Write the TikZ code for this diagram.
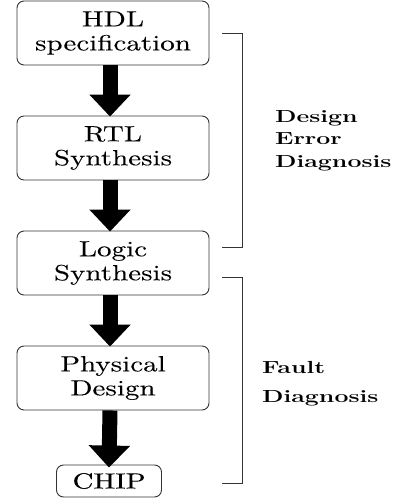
\documentclass[tikz,border=0pt]{standalone}
\usepackage{fontspec}
\usepackage{graphicx}
\usetikzlibrary{arrows.meta}
\newfontfamily\boxfont{lmroman10-regular}[Extension=.otf, FakeBold=0.08]
\newcommand\bx[1]{\scalebox{1.32}[1]{#1}}
\newcommand\lb[1]{\scalebox{1.42}[1]{\bfseries #1}}
\tikzset{
  stage/.style={draw=black!80, line width=0.9pt, rounded corners=7pt,
    minimum width=192pt, minimum height=64pt, inner sep=0pt,
    align=center, font=\boxfont\fontsize{22}{24}\selectfont},
  chipbox/.style={stage, minimum width=105pt, minimum height=32pt},
  flow/.style={line width=15pt, -{Triangle[width=40pt,length=22pt]}},
  brace/.style={draw=black!80, line width=0.9pt},
  lab/.style={anchor=base west, inner sep=0pt, font=\fontsize{17.5}{22}\selectfont}
}
\begin{document}
\begin{tikzpicture}[x=1pt,y=-1pt]
\useasboundingbox (0,0) rectangle (399,499);
\node[stage] (b1) at (113,33) {\bx{HDL}\\\bx{specification}};
\node[stage] (b2) at (113,148) {\bx{RTL}\\\bx{Synthesis}};
\node[stage] (b3) at (113,263) {\bx{Logic}\\\bx{Synthesis}};
\node[stage] (b4) at (113,378) {\bx{Physical}\\\bx{Design}};
\node[chipbox] (b5) at (109,481) {\bx{CHIP}};
\draw[flow] ([xshift=-3pt]b1.south) -- ([xshift=-3pt,yshift=-1pt]b2.north);
\draw[flow] ([xshift=-3pt]b2.south) -- ([xshift=-3pt,yshift=-1pt]b3.north);
\draw[flow] ([xshift=-3pt]b3.south) -- ([xshift=-3pt,yshift=-1pt]b4.north);
\draw[flow] ([xshift=-3pt]b4.south) -- ([yshift=-3pt]b5.north);
\coordinate (u1) at (222,33); \coordinate (u2) at (222,247);
\coordinate (l1) at (222,277); \coordinate (l2) at (222,483);
\draw[brace] (u1) -- ++(20,0) |- (u2);
\draw[brace] (l1) -- ++(20,0) |- (l2);
\node[lab] (d1) at (275,122) {\lb{Design}};
\node[lab] (d2) at (275,144.5) {\lb{Error}};
\node[lab] (d3) at (275,167) {\lb{Diagnosis}};
\node[lab] (f1) at (262,373) {\lb{Fault}};
\node[lab] (f2) at (262,402) {\lb{Diagnosis}};
\end{tikzpicture}
\end{document}
